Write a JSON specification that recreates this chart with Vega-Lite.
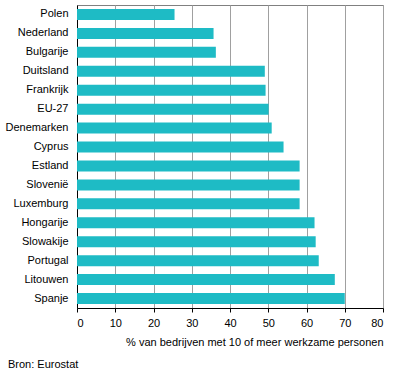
{
  "$schema": "https://vega.github.io/schema/vega-lite/v6.json",
  "width": 306,
  "height": 303,
  "autosize": "none",
  "padding": {"left": 77, "top": 5, "right": 13, "bottom": 73},
  "background": "white",
  "data": {"values": [
    {"land": "Polen", "pct": 25.5},
    {"land": "Nederland", "pct": 35.7},
    {"land": "Bulgarije", "pct": 36.3},
    {"land": "Duitsland", "pct": 49.1},
    {"land": "Frankrijk", "pct": 49.3},
    {"land": "EU-27", "pct": 50.1},
    {"land": "Denemarken", "pct": 50.9},
    {"land": "Cyprus", "pct": 54.0},
    {"land": "Estland", "pct": 58.2},
    {"land": "Slovenië", "pct": 58.2},
    {"land": "Luxemburg", "pct": 58.2},
    {"land": "Hongarije", "pct": 62.1},
    {"land": "Slowakije", "pct": 62.4},
    {"land": "Portugal", "pct": 63.2},
    {"land": "Litouwen", "pct": 67.4},
    {"land": "Spanje", "pct": 70.0}
  ]},
  "title": {
    "text": "Bron: Eurostat",
    "orient": "bottom",
    "anchor": "start",
    "frame": "group",
    "dx": -69,
    "offset": 12,
    "font": "Liberation Sans",
    "fontSize": 11,
    "fontWeight": "normal",
    "color": "black"
  },
  "mark": {"type": "bar", "color": "#1EBBC5"},
  "encoding": {
    "y": {
      "field": "land",
      "type": "nominal",
      "sort": null,
      "scale": {"paddingInner": 0.42, "paddingOuter": 0.21},
      "axis": {
        "title": null,
        "ticks": false,
        "tickSize": 0,
        "labelPadding": 9,
        "domainColor": "black",
        "grid": false,
        "labelFont": "Liberation Sans",
        "labelFontSize": 11,
        "labelFontWeight": "normal",
        "labelColor": "black"
      }
    },
    "x": {
      "field": "pct",
      "type": "quantitative",
      "scale": {"domain": [0, 80], "nice": false},
      "axis": {
        "title": "% van bedrijven met 10 of meer werkzame personen",
        "titleAnchor": "end",
        "titleAlign": "right",
        "titleFont": "Liberation Sans",
        "titleFontSize": 11,
        "titleFontWeight": "normal",
        "titleColor": "black",
        "titlePadding": 8,
        "values": [0, 10, 20, 30, 40, 50, 60, 70, 80],
        "tickSize": 4,
        "tickColor": "black",
        "domainColor": "black",
        "gridColor": "#A0A0A0",
        "gridOpacity": 1,
        "labelPadding": 5,
        "labelFont": "Liberation Sans",
        "labelFontSize": 11,
        "labelFontWeight": "normal",
        "labelColor": "black"
      }
    }
  },
  "config": {
    "view": {"stroke": "#808080", "strokeWidth": 1}
  }
}
